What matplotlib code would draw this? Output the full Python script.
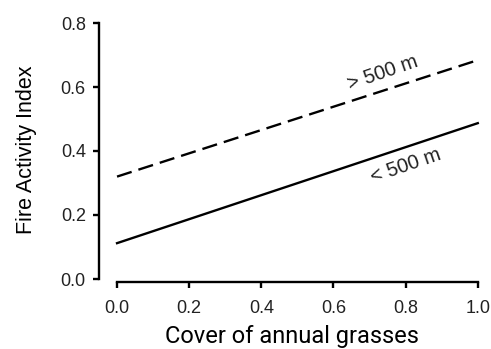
import matplotlib.pyplot as plt

# fitted fire activity vs. annual grass cover, by distance class
cover = [0.0, 1.0]
fai_far = [0.32, 0.684]    # > 500 m
fai_near = [0.112, 0.487]  # < 500 m

x_ticks = [0.0, 0.2, 0.4, 0.6, 0.8, 1.0]
y_ticks = [0.0, 0.2, 0.4, 0.6, 0.8]

fig = plt.figure(figsize=(4.91, 3.49), dpi=100)
W, H = 491, 349
left, right, top, bottom = 99, 485, 16.6, 282.2
ax = fig.add_axes([left / W, 1 - bottom / H, (right - left) / W, (bottom - top) / H])

ax.plot(cover, fai_far, color="black", lw=1.7, linestyle=(0, (6.5, 3.0)))
ax.plot(cover, fai_near, color="black", lw=1.7)

ax.text(0.737, 0.644, "> 500 m", rotation=19, ha="center", va="center",
        fontsize=14.5, family="Liberation Sans", color="#222222")
ax.text(0.80, 0.353, "< 500 m", rotation=19, ha="center", va="center",
        fontsize=14.5, family="Liberation Sans", color="#222222")

ax.set_xlim(-0.05, 1.02)
ax.set_ylim(-0.01, 0.82)
ax.spines["top"].set_visible(False)
ax.spines["right"].set_visible(False)
ax.spines["left"].set_bounds(0, 0.8)
ax.spines["bottom"].set_bounds(0, 1.0)
for s in ["left", "bottom"]:
    ax.spines[s].set_linewidth(1.7)

ax.set_xticks(x_ticks)
ax.set_yticks(y_ticks)
ax.set_xticklabels([f"{v:.1f}" for v in x_ticks], family="Liberation Sans", fontsize=13, color="#222222")
ax.set_yticklabels([f"{v:.1f}" for v in y_ticks], family="Liberation Sans", fontsize=13, color="#222222")
ax.tick_params(width=1.7, length=4.5)
ax.tick_params(axis="y", pad=5)
ax.tick_params(axis="x", pad=8)

ax.set_xlabel("Cover of annual grasses", family="Roboto", fontsize=17, labelpad=6)
ax.set_ylabel("Fire Activity Index", family="Liberation Sans", fontsize=15.5, labelpad=17)

fig.savefig("out.png", dpi=100)
